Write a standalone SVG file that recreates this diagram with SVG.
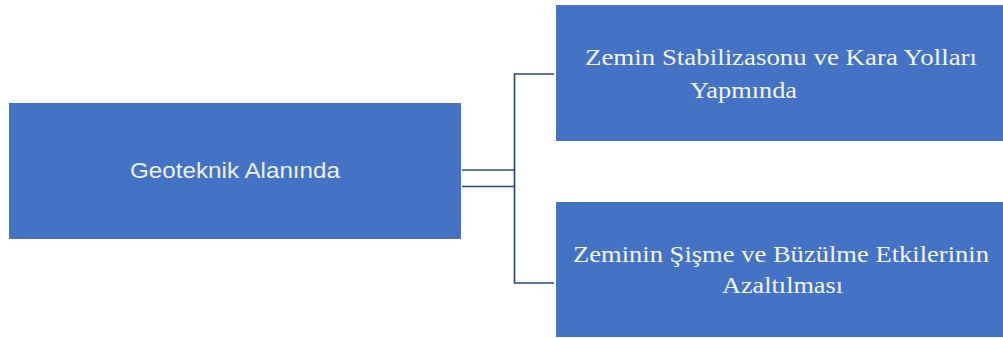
<svg xmlns="http://www.w3.org/2000/svg" width="1003" height="338" viewBox="0 0 1003 338">
  <style>
    .box { fill: #4472c4; }
    .link { fill: none; stroke: #2f4a7a; stroke-width: 1.7; }
    .serif { font-family: "Liberation Serif", "Times New Roman", serif; font-size: 23px; fill: #f1f5fc; }
    .sans { font-family: "Liberation Sans", Arial, sans-serif; font-size: 22px; fill: #eaf1fb; }
  </style>
  <rect width="1003" height="338" fill="#ffffff"/>

  <!-- connectors: twin stubs from the root box into a vertical bus, then out to each child -->
  <g id="connectors">
    <line class="link" x1="462" y1="170" x2="514.5" y2="170"/>
    <line class="link" x1="462" y1="186.5" x2="514.5" y2="186.5"/>
    <polyline class="link" points="554,74 514.5,74 514.5,283 554,283"/>
  </g>

  <g id="node-geoteknik">
    <rect class="box" x="9" y="103" width="452" height="136"/>
    <text class="sans" x="130" y="178" textLength="210" lengthAdjust="spacingAndGlyphs">Geoteknik Alanında</text>
  </g>

  <g id="node-zemin-stabilizasyon">
    <rect class="box" x="556" y="5" width="447" height="136"/>
    <text class="serif" x="585" y="64.5" textLength="392" lengthAdjust="spacingAndGlyphs">Zemin Stabilizasonu ve Kara Yolları</text>
    <text class="serif" x="690" y="98" textLength="107" lengthAdjust="spacingAndGlyphs">Yapmında</text>
  </g>

  <g id="node-sisme-buzulme">
    <rect class="box" x="556" y="202" width="447" height="135"/>
    <text class="serif" x="573" y="262" textLength="416" lengthAdjust="spacingAndGlyphs">Zeminin Şişme ve Büzülme Etkilerinin</text>
    <text class="serif" x="722" y="292.5" textLength="121" lengthAdjust="spacingAndGlyphs">Azaltılması</text>
  </g>
</svg>
